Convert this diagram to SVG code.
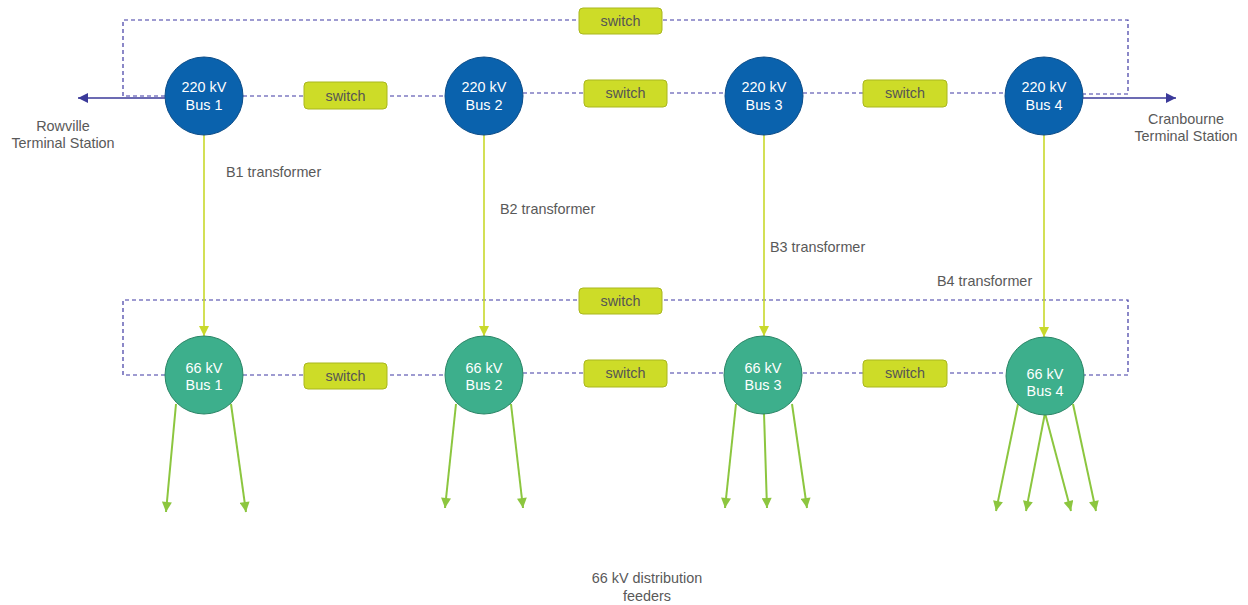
<svg xmlns="http://www.w3.org/2000/svg" width="1248" height="605" viewBox="0 0 1248 605">
<style>
text{font-family:"Liberation Sans",Arial,sans-serif;font-size:14.4px}
.lbl{fill:#595959}
.ctr{text-anchor:middle}
.wt{fill:#ffffff;text-anchor:middle}
.dash{fill:none;stroke:#3f39a3;stroke-width:1.2;stroke-dasharray:4 3}
.hv{fill:#0a62ad;stroke:#0b4c88;stroke-width:1}
.mv{fill:#3daf8c;stroke:#2a8566;stroke-width:1}
.sw{fill:#cddc28;stroke:#a9b71e;stroke-width:1}
.swt{fill:#555555;text-anchor:middle}
.ext{stroke:#3b3a9a;stroke-width:1.6;fill:none;marker-end:url(#mb)}
.tr{stroke:#c8d92b;stroke-width:1.6;fill:none;marker-end:url(#my)}
.fd{stroke:#8cc63f;stroke-width:2;fill:none;marker-end:url(#mg)}
</style>
<defs>
<marker id="mb" viewBox="0 0 10 10" refX="10" refY="5" markerWidth="12" markerHeight="10" markerUnits="userSpaceOnUse" orient="auto"><path d="M0,0 L10,5 L0,10 z" fill="#3b3a9a"/></marker>
<marker id="my" viewBox="0 0 10 10" refX="10" refY="5" markerWidth="11" markerHeight="10" markerUnits="userSpaceOnUse" orient="auto"><path d="M0,0 L10,5 L0,10 z" fill="#c8d92b"/></marker>
<marker id="mg" viewBox="0 0 10 10" refX="10" refY="5" markerWidth="12" markerHeight="10" markerUnits="userSpaceOnUse" orient="auto"><path d="M0,0 L10,5 L0,10 z" fill="#8cc63f"/></marker>
</defs>

<g id="connectors">
  <polyline class="dash" points="165,96 123,96 123,20 1128,20 1128,94 1083,94"/>
  <line class="dash" x1="243" y1="96" x2="445" y2="96"/>
  <line class="dash" x1="523" y1="93" x2="1004" y2="93"/>
  <polyline class="dash" points="165,375 123,375 123,300 1128,300 1128,375 1084,375"/>
  <line class="dash" x1="243" y1="375" x2="445" y2="375"/>
  <line class="dash" x1="523" y1="373" x2="1006" y2="373"/>
  <line class="ext" x1="165" y1="98" x2="78" y2="98"/>
  <line class="ext" x1="1083" y1="98" x2="1176" y2="98"/>
  <line class="tr" x1="204" y1="135" x2="204" y2="336"/>
  <line class="tr" x1="484" y1="135" x2="484" y2="336"/>
  <line class="tr" x1="764" y1="135" x2="764" y2="336"/>
  <line class="tr" x1="1044" y1="135" x2="1044" y2="337"/>
  <line class="fd" x1="176" y1="404" x2="166" y2="512"/>
  <line class="fd" x1="231" y1="404" x2="246" y2="512"/>
  <line class="fd" x1="456" y1="404" x2="445" y2="508"/>
  <line class="fd" x1="511" y1="404" x2="523" y2="508"/>
  <line class="fd" x1="736" y1="404" x2="725" y2="508"/>
  <line class="fd" x1="764" y1="413" x2="767" y2="508"/>
  <line class="fd" x1="792" y1="404" x2="807" y2="508"/>
  <line class="fd" x1="1018" y1="404" x2="996" y2="511"/>
  <line class="fd" x1="1045" y1="413" x2="1026" y2="511"/>
  <line class="fd" x1="1045" y1="413" x2="1071" y2="511"/>
  <line class="fd" x1="1073" y1="404" x2="1096" y2="511"/>
</g>

<g id="hv-bus1"><circle class="hv" cx="204" cy="96" r="39"/><text class="wt" x="204" y="92">220 kV</text><text class="wt" x="204" y="110">Bus 1</text></g>
<g id="hv-bus2"><circle class="hv" cx="484" cy="96" r="39"/><text class="wt" x="484" y="92">220 kV</text><text class="wt" x="484" y="110">Bus 2</text></g>
<g id="hv-bus3"><circle class="hv" cx="764" cy="96" r="39"/><text class="wt" x="764" y="92">220 kV</text><text class="wt" x="764" y="110">Bus 3</text></g>
<g id="hv-bus4"><circle class="hv" cx="1044" cy="96" r="39"/><text class="wt" x="1044" y="92">220 kV</text><text class="wt" x="1044" y="110">Bus 4</text></g>

<g id="mv-bus1"><circle class="mv" cx="204" cy="375" r="39"/><text class="wt" x="204" y="373">66 kV</text><text class="wt" x="204" y="390">Bus 1</text></g>
<g id="mv-bus2"><circle class="mv" cx="484" cy="375" r="39"/><text class="wt" x="484" y="373">66 kV</text><text class="wt" x="484" y="390">Bus 2</text></g>
<g id="mv-bus3"><circle class="mv" cx="763" cy="375" r="39"/><text class="wt" x="763" y="373">66 kV</text><text class="wt" x="763" y="390">Bus 3</text></g>
<g id="mv-bus4"><circle class="mv" cx="1045" cy="376" r="39"/><text class="wt" x="1045" y="379">66 kV</text><text class="wt" x="1045" y="396">Bus 4</text></g>

<g id="sw-top"><rect class="sw" x="579" y="8" width="83" height="26" rx="4"/><text class="swt" x="620.5" y="26">switch</text></g>
<g id="sw-hv12"><rect class="sw" x="304" y="82" width="83" height="27" rx="4"/><text class="swt" x="345.5" y="101">switch</text></g>
<g id="sw-hv23"><rect class="sw" x="584" y="80" width="83" height="27" rx="4"/><text class="swt" x="625.5" y="98">switch</text></g>
<g id="sw-hv34"><rect class="sw" x="863" y="80" width="84" height="27" rx="4"/><text class="swt" x="905" y="98">switch</text></g>
<g id="sw-bottom"><rect class="sw" x="579" y="288" width="83" height="26" rx="4"/><text class="swt" x="620.5" y="306">switch</text></g>
<g id="sw-mv12"><rect class="sw" x="304" y="363" width="83" height="26" rx="4"/><text class="swt" x="345.5" y="381">switch</text></g>
<g id="sw-mv23"><rect class="sw" x="584" y="360" width="83" height="27" rx="4"/><text class="swt" x="625.5" y="378">switch</text></g>
<g id="sw-mv34"><rect class="sw" x="863" y="360" width="84" height="27" rx="4"/><text class="swt" x="905" y="378">switch</text></g>

<g id="labels">
  <text class="lbl ctr" x="63" y="131">Rowville</text>
  <text class="lbl ctr" x="63" y="148">Terminal Station</text>
  <text class="lbl ctr" x="1186" y="124">Cranbourne</text>
  <text class="lbl ctr" x="1186" y="141">Terminal Station</text>
  <text class="lbl" x="226" y="177">B1 transformer</text>
  <text class="lbl" x="500" y="214">B2 transformer</text>
  <text class="lbl" x="770" y="252">B3 transformer</text>
  <text class="lbl" x="937" y="286">B4 transformer</text>
  <text class="lbl ctr" x="647" y="583">66 kV distribution</text>
  <text class="lbl ctr" x="647" y="601">feeders</text>
</g>
</svg>
